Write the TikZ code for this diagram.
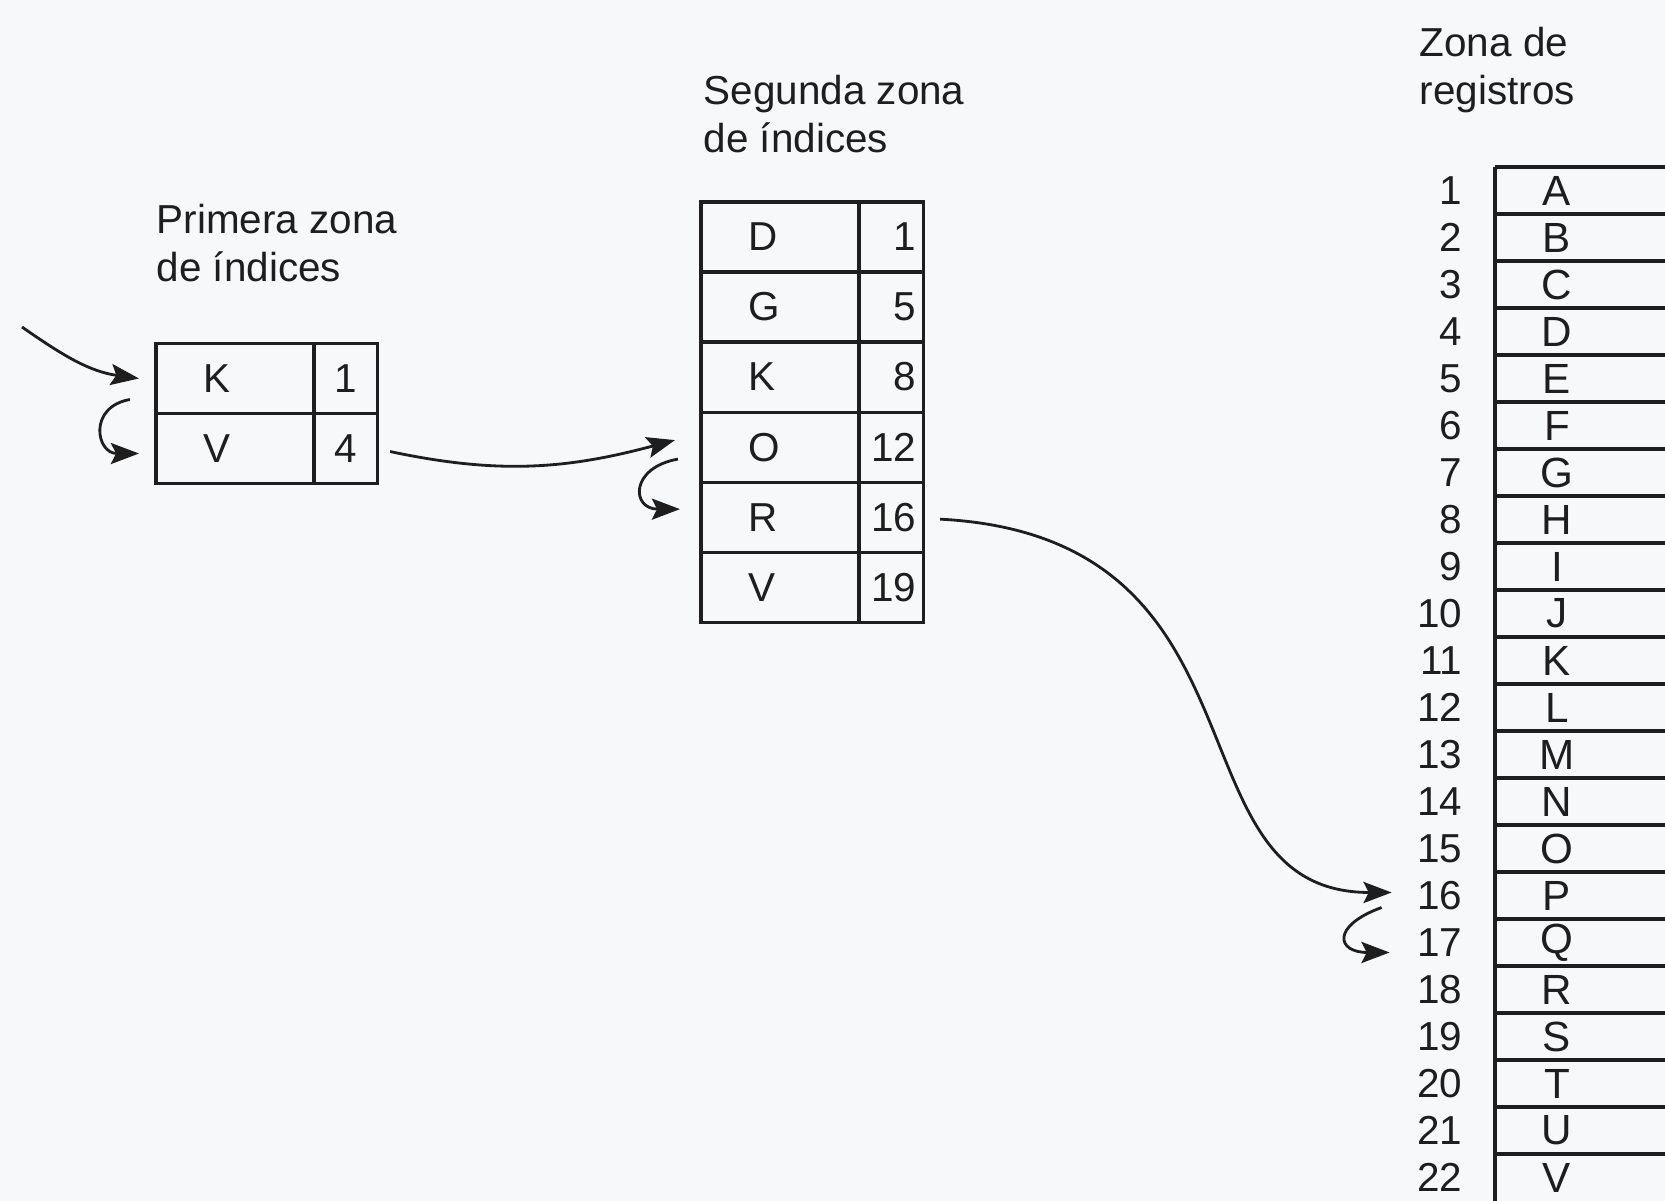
\documentclass[tikz,border=0pt]{standalone}
\usepackage{fontspec}
\setmainfont{Liberation Sans}
\usepackage{tikz}
\usetikzlibrary{arrows.meta}
\usetikzlibrary{calc}
\usetikzlibrary{positioning}

\definecolor{paper}{RGB}{247,248,250}
\definecolor{ink}{RGB}{30,30,30}

\tikzset{
	keycell/.style={draw=ink, line width=0.9pt, outer sep=0pt, minimum height=0.7cm, text width=0.62cm,
		inner xsep=0.48cm, inner ysep=0pt, align=left, text=ink, font=\fontsize{11.5}{13}\selectfont},
	ptrcell/.style={draw=ink, line width=0.9pt, outer sep=0pt, minimum height=0.7cm, minimum width=0.63cm,
		inner sep=0pt, text=ink, font=\fontsize{11.5}{13}\selectfont},
	ptrright/.style={ptrcell, text width=0.5cm, inner xsep=0.07cm, align=right},
	regcell/.style={minimum width=1.24cm, minimum height=0.47cm, inner sep=0pt, outer sep=0pt,
		text=ink, font=\fontsize{12}{14}\selectfont},
	numlabel/.style={anchor=east, inner sep=0pt, text=ink, font=\fontsize{11.5}{13}\selectfont},
	tabline/.style={draw=ink, line width=0.9pt},
	arr/.style={-{Stealth[length=8pt, width=6pt, inset=1.5pt]}, draw=ink, line width=0.8pt}
}

\begin{document}
\begin{tikzpicture}[x=0.01cm, y=-0.01cm]
	\fill[paper] (0,0) rectangle (1665,1201);
	\useasboundingbox (0,0) rectangle (1665,1201);

	% titles
	\begin{scope}[every node/.style={anchor=north west, align=left, inner sep=0pt,
	              text=ink, font=\fontsize{11.5}{13.6}\selectfont}]
		\node (tit1) at (156,204) {Primera zona\\de índices};
		\node (tit2) at (703,75) {Segunda zona\\de índices};
		\node (tit3) at (1419,27) {Zona de\\registros};
	\end{scope}

	% primera zona de indices
	\node[keycell] (p1k) at (235,378.5) {K};
	\node[ptrcell, right=0pt of p1k] (p1p) {1};
	\node[keycell, below=0pt of p1k] (p2k) {V};
	\node[ptrcell, right=0pt of p2k] (p2p) {4};

	% segunda zona de indices
	\node[keycell] (s1k) at (780,237) {D};
	\node[ptrright, right=0pt of s1k] (s1p) {1};
	\node[keycell, below=0pt of s1k] (s2k) {G};
	\node[ptrright, right=0pt of s2k] (s2p) {5};
	\node[keycell, below=0pt of s2k] (s3k) {K};
	\node[ptrright, right=0pt of s3k] (s3p) {8};
	\node[keycell, below=0pt of s3k] (s4k) {O};
	\node[ptrright, right=0pt of s4k] (s4p) {12};
	\node[keycell, below=0pt of s4k] (s5k) {R};
	\node[ptrright, right=0pt of s5k] (s5p) {16};
	\node[keycell, below=0pt of s5k] (s6k) {V};
	\node[ptrright, right=0pt of s6k] (s6p) {19};

	% zona de registros
	\foreach \l [count=\i] in {A,B,C,D,E,F,G,H,I,J,K,L,M,N,O,P,Q,R,S,T,U,V} {
		\node[regcell] (r\i) at (1557,{167+(\i-0.5)*47}) {\l};
		\node[numlabel] (n\i) at (1463,{167+(\i-0.5)*47}) {\i};
		\draw[tabline] (r\i.north west) -- ++(220,0);
	}
	\draw[tabline] (r1.north west) -- ($(r22.south west)+(0,20)$);

	% punteros
	\coordinate (in) at (22,327);
	\draw[arr] (in) to[out=-35, in=172] ($(p1k.west)+(-17,0)$);
	\draw[arr] ($(p1k.west)+(-26,21)$) to[out=190, in=180, looseness=2] ($(p2k.west)+(-17,5)$);
	\draw[arr] ($(p2p.east)+(13,3)$) to[out=-12, in=195] ($(s4k.west)+(-26,-7)$);
	\draw[arr] ($(s4k.west)+(-23,12)$) to[out=190, in=180, looseness=2.5] ($(s5k.west)+(-21,-8)$);
	\draw[arr] ($(s5p.east)+(17,2)$) to[out=-3, in=180, out looseness=1.5, in looseness=1] ($(n16.west)+(-25,-3)$);
	\draw[arr] ($(n16.west)+(-35,12)$) to[out=200, in=180, looseness=3] ($(n17.west)+(-27,10)$);
\end{tikzpicture}
\end{document}
